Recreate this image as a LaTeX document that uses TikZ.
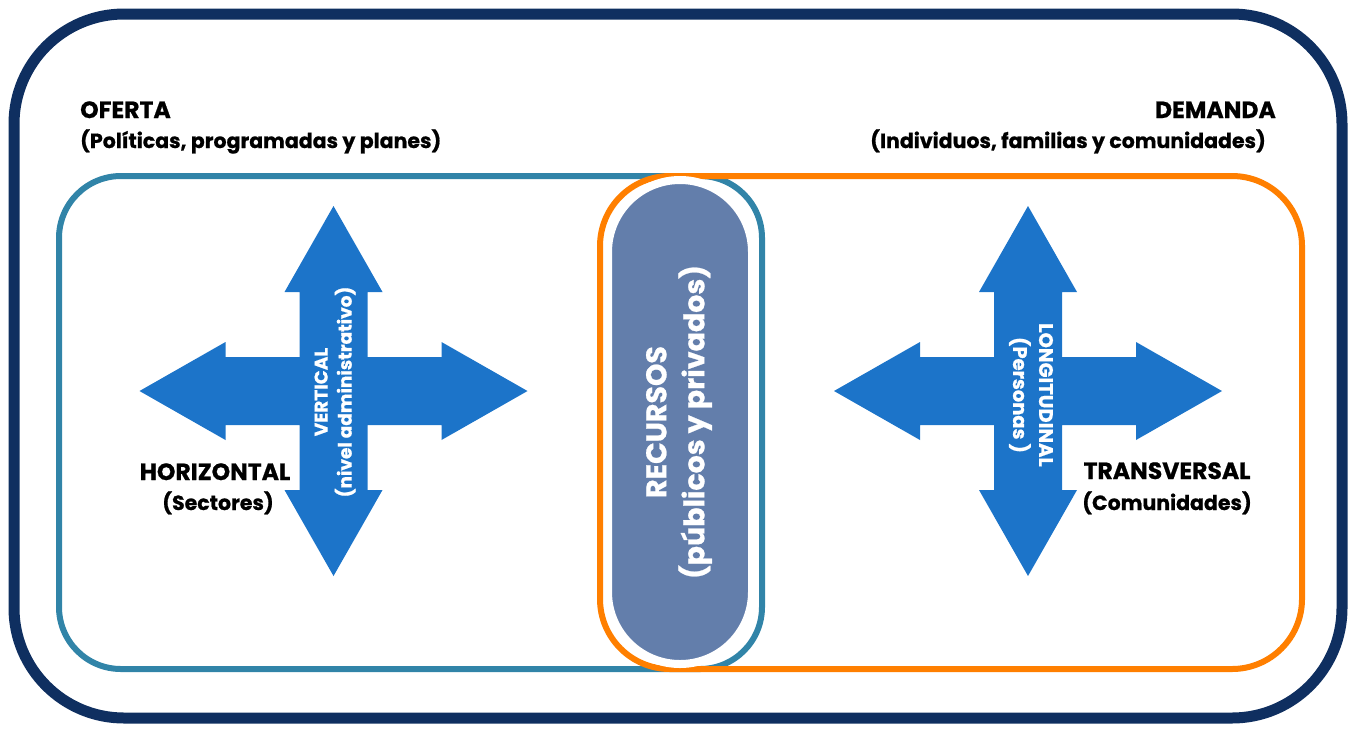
\documentclass[tikz,border=0pt]{standalone}
\usepackage{fontspec}
\setmainfont{Poppins}[BoldFeatures={FakeBold=0.8}]
\definecolor{navy}{HTML}{0F2F60}
\definecolor{teal}{HTML}{3184A8}
\definecolor{orng}{HTML}{FF7F00}
\definecolor{arrowc}{HTML}{1C74C9}
\definecolor{pillc}{HTML}{637EAB}
\newcommand\capsz{\fontsize{23.5}{26}\selectfont}
\newcommand\lowsz{\fontsize{20.5}{24}\selectfont}
\tikzset{
  hdr/.style={font=\bfseries, text=black, inner sep=0pt},
  rot/.style={font=\bfseries, text=white, inner sep=0pt, align=center},
  cross/.pic={
    \fill[arrowc] (-194,0) -- (-108,-49) -- (-108,-34) -- (-34,-34) -- (-34,-99) -- (-49,-99)
      -- (0,-185) -- (49,-99) -- (34,-99) -- (34,-34) -- (108,-34) -- (108,-49) -- (194,0)
      -- (108,49) -- (108,34) -- (34,34) -- (34,99) -- (49,99) -- (0,185) -- (-49,99)
      -- (-34,99) -- (-34,34) -- (-108,34) -- (-108,49) -- cycle;
  }
}
\begin{document}
\begin{tikzpicture}[x=1pt,y=-1pt]
\useasboundingbox (0,0) rectangle (1356,732);
% outer frame
\draw[navy, line width=11, rounded corners=110] (14,14) rectangle (1342,718);
% offer / demand frames
\draw[teal, line width=6, rounded corners=62] (59,176) rectangle (762,669);
\draw[orng, line width=6, rounded corners=70] (600,176) rectangle (1302,669);
% resources pill
\draw[draw=white, line width=8, fill=pillc, rounded corners=72] (608,180) rectangle (752,664);
\node[rot, font=\bfseries\fontsize{28.5}{38}\selectfont, rotate=90] (rec) at (679,422) {RECURSOS\\(públicos y privados)};
% crosses
\pic at (333.5,391) {cross};
\pic at (1028,391) {cross};
\node[rot, font=\bfseries\fontsize{18.5}{24}\selectfont, rotate=90] (vert) at (335,392) {VERTICAL\\(nivel administrativo)};
\node[rot, rotate=-90, font=\bfseries\fontsize{19.5}{26}\selectfont] (long) at (1031,395) {LONGITUDINAL\\(Personas )};
% headers
\node[hdr, font=\bfseries\capsz, anchor=base west] (of) at (80,118) {OFERTA};
\node[hdr, font=\bfseries\lowsz, anchor=base west] (ofs) at (80,148) {(Políticas, programadas y planes)};
\node[hdr, font=\bfseries\capsz, anchor=base east] (de) at (1276,118) {DEMANDA};
\node[hdr, font=\bfseries\lowsz, anchor=base east] (des) at (1266,148) {(Individuos, familias y comunidades)};
% side labels
\node[hdr, font=\bfseries\capsz, anchor=base] (hor) at (215,480) {HORIZONTAL};
\node[hdr, font=\bfseries\lowsz, anchor=base] (sec) at (218,510) {(Sectores)};
\node[hdr, font=\bfseries\capsz, anchor=base] (tra) at (1167,479) {TRANSVERSAL};
\node[hdr, font=\bfseries\lowsz, anchor=base] (com) at (1167,510) {(Comunidades)};
\end{tikzpicture}
\end{document}
